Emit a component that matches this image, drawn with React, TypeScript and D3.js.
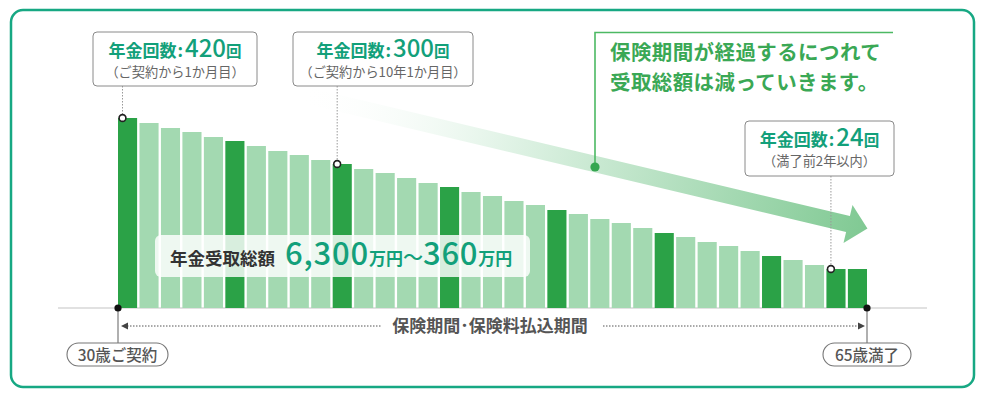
import React from 'react';
import * as d3 from 'd3';

// 年次ごとの受取総額（相対値、画像から読み取り）
const years = d3.range(30, 65).map(a => `${a}歳`);
const amounts = [
  190, 185, 180, 176, 171, 167, 162, 157, 153, 148,
  144, 139, 135, 130, 125, 121, 116, 112, 107, 103,
  98, 94, 89, 85, 80, 75, 71, 66, 62, 57,
  52, 48, 43, 39, 39,
];
const highlighted = [0, 5, 10, 15, 20, 25, 30, 33, 34];

const callouts = [
  { idx: 0, count: '420', note: '（ご契約から1か月目）' },
  { idx: 10, count: '300', note: '（ご契約から10年1か月目）' },
  { idx: 33, count: '24', note: '（満了前2年以内）' },
];
const calloutBoxes = [
  { x: 93, y: 32, w: 164, h: 54 },
  { x: 293, y: 32, w: 180, h: 54 },
  { x: 745, y: 121, w: 149, h: 55 },
];

const message = ['保険期間が経過するにつれて', '受取総額は減っていきます。'];
const startLabel = '30歳ご契約';
const endLabel = '65歳満了';
const periodLabel = '保険期間･保険料払込期間';

const FONT = '"Noto Sans CJK JP", "Noto Sans", sans-serif';
const DARK = '#2ba247';
const LIGHT = '#a3d9b1';
const TEAL = '#12a07a';
const MSG = '#3aa855';

export default function App() {
  const baseY = 308;
  const x = d3.scaleBand<string>().domain(years).range([118, 867]).paddingInner(0.11);
  const y = d3.scaleLinear().domain([0, 190]).range([baseY, 118]);

  const left = x(years[0])!;
  const right = x(years[years.length - 1])! + x.bandwidth();

  // big arrow geometry
  const a0: [number, number] = [300, 94];
  const a1: [number, number] = [848, 224];
  const len = Math.hypot(a1[0] - a0[0], a1[1] - a0[1]);
  const ang = (Math.atan2(a1[1] - a0[1], a1[0] - a0[0]) * 180) / Math.PI;

  return (
    <svg width={985} height={400} style={{ display: 'block', position: 'absolute', left: 0, top: 0 }} fontFamily={FONT}>
      <defs>
        <linearGradient id="arrowGrad" gradientUnits="userSpaceOnUse" x1={0} y1={0} x2={len + 20} y2={0}>
          <stop offset="0" stopColor="#ffffff" stopOpacity={0} />
          <stop offset="0.35" stopColor="#e3f4e8" />
          <stop offset="1" stopColor="#80c993" />
        </linearGradient>
      </defs>
      <rect x={0} y={0} width={985} height={400} fill="#fff" />
      <rect x={11} y={10} width={963} height={377} rx={12} fill="#fff" stroke="#17a883" strokeWidth={2.5} />

      {/* baseline */}
      <line x1={58} x2={927} y1={baseY} y2={baseY} stroke="#c4c4c4" strokeWidth={1.2} />

      {/* bars */}
      {amounts.map((v, i) => (
        <rect
          key={years[i]}
          x={x(years[i])}
          y={y(v)}
          width={x.bandwidth()}
          height={baseY - y(v)}
          fill={highlighted.includes(i) ? DARK : LIGHT}
        />
      ))}

      {/* big trend arrow */}
      <g transform={`translate(${a0[0]},${a0[1]}) rotate(${ang})`}>
        <path
          d={`M0,-8.2 L${len},-8.2 L${len},-19.5 L${len + 20},0 L${len},19.5 L${len},8.2 L0,8.2 Z`}
          fill="url(#arrowGrad)"
        />
      </g>
      <path d="M595,167 V32.5 H893" fill="none" stroke="#4cb963" strokeWidth={1.6} />
      <circle cx={595} cy={167} r={4.6} fill="#35a650" />
      {message.map((m, i) => (
        <text key={i} x={610} y={60 + i * 30} fontSize={20.5} fontWeight={700} fill={MSG} letterSpacing={0.4}>
          {m}
        </text>
      ))}

      {/* total label */}
      <rect x={155} y={235} width={375} height={42} rx={6} fill="#fff" fillOpacity={0.82} />
      <text x={170} y={265} fill="#333" fontWeight={700}>
        <tspan fontSize={17.5}>年金受取総額</tspan>
        <tspan dx={10} fontSize={31} fill={TEAL} fontWeight={500} letterSpacing={0.8}>6,300</tspan>
        <tspan fontSize={17} fill={TEAL}>万円</tspan>
        <tspan fontSize={20} fill={TEAL} fontWeight={500}>〜</tspan>
        <tspan fontSize={31} fill={TEAL} fontWeight={500} letterSpacing={0.8}>360</tspan>
        <tspan fontSize={17} fill={TEAL}>万円</tspan>
      </text>

      {/* callouts */}
      {callouts.map((c, k) => {
        const b = calloutBoxes[k];
        const bx = x(years[c.idx])! + 4.5;
        const by = y(amounts[c.idx]);
        const cx = b.x + b.w / 2;
        return (
          <g key={k}>
            <line x1={bx} x2={bx} y1={b.y + b.h} y2={by} stroke="#999" strokeWidth={1} strokeDasharray="1.5,1.5" />
            <rect x={b.x} y={b.y} width={b.w} height={b.h} rx={4} fill="#fff" stroke="#8a8a8a" strokeWidth={1} />
            <text x={cx} y={b.y + 25} textAnchor="middle" fill={TEAL} fontWeight={700}>
              <tspan fontSize={17}>年金回数</tspan>
              <tspan fontSize={17} dx={1}>:</tspan>
              <tspan fontSize={24} fontWeight={500} dx={2}>{c.count}</tspan>
              <tspan fontSize={15.5}>回</tspan>
            </text>
            <text x={cx} y={b.y + 45} textAnchor="middle" fill="#666" fontSize={13.2}>
              {c.note}
            </text>
            <circle cx={bx} cy={by} r={3.4} fill="#fff" stroke="#222" strokeWidth={1.6} />
          </g>
        );
      })}

      {/* period markers */}
      {[left, right].map((px, i) => (
        <line key={i} x1={px} x2={px} y1={baseY} y2={343} stroke="#a8a8a8" strokeWidth={1.8} />
      ))}
      <circle cx={left} cy={baseY} r={3.6} fill="#111" />
      <circle cx={right} cy={baseY} r={3.6} fill="#111" />

      <line x1={124} x2={381} y1={326} y2={326} stroke="#555" strokeWidth={1} strokeDasharray="1.5,1.5" />
      <path d={`M${left + 3},326 l7,-3.5 v7 Z`} fill="#444" />
      <line x1={603} x2={right - 8} y1={326} y2={326} stroke="#555" strokeWidth={1} strokeDasharray="1.5,1.5" />
      <path d={`M${right - 2},326 l-7,-3.5 v7 Z`} fill="#444" />
      <text x={490} y={332} textAnchor="middle" fontSize={17} fontWeight={700} fill="#555">
        {periodLabel}
      </text>

      <rect x={67} y={343} width={101} height={23} rx={11.5} fill="#fff" stroke="#777" strokeWidth={1.1} />
      <text x={117.5} y={360.5} textAnchor="middle" fontSize={15.5} fill="#555" fontWeight={500}>
        {startLabel}
      </text>
      <rect x={823} y={343} width={88} height={23} rx={11.5} fill="#fff" stroke="#777" strokeWidth={1.1} />
      <text x={867} y={360.5} textAnchor="middle" fontSize={15.5} fill="#555" fontWeight={500}>
        {endLabel}
      </text>
    </svg>
  );
}
